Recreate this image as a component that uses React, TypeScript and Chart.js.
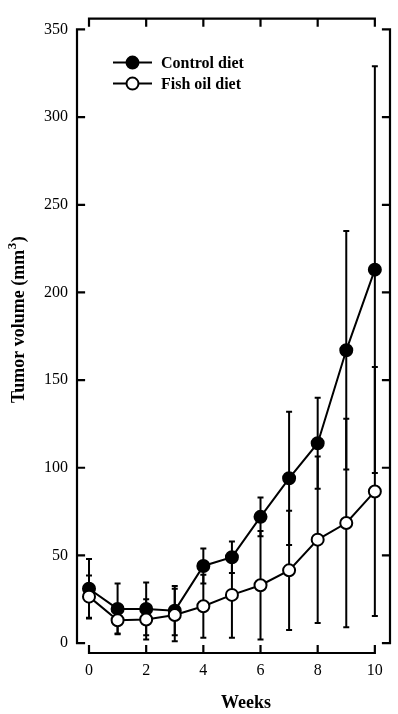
import React, { useEffect, useRef } from "react";
import { Chart, registerables } from "chart.js";
Chart.register(...registerables);

const weeks = [0, 1, 2, 3, 4, 5, 6, 7, 8, 9, 10];
const controlMean = [31, 19.5, 19.5, 18.5, 44, 49, 72, 94, 114, 167, 213];
const controlSD = [17, 14.5, 15, 14, 10, 9, 11, 38, 26, 68, 116];
const fishMean = [26.5, 13, 13.5, 16, 21, 27.5, 33, 41.5, 59, 68.5, 86.5];
const fishSD = [12, 7.5, 11.5, 15, 18, 24.5, 31, 34, 47.5, 59.5, 71];
const xTicks = [0, 2, 4, 6, 8, 10];
const yTicks = [0, 50, 100, 150, 200, 250, 300, 350];
const seriesLabels = ["Control diet", "Fish oil diet"];
const xTitle = "Weeks";
const yTitleMain = "Tumor volume (mm";
const yTitleSup = "3";
const yTitleEnd = ")";

const FONT = "'Liberation Serif', 'Times New Roman', serif";

const errorBarPlugin = {
  id: "errorBars",
  beforeDatasetsDraw(chart: any) {
    const { ctx, scales } = chart;
    const xs = scales.x, ys = scales.y;
    ctx.save();
    ctx.strokeStyle = "#000";
    ctx.lineWidth = 2;
    chart.data.datasets.forEach((ds: any) => {
      const errs: number[] = ds.errors || [];
      ds.data.forEach((p: any, i: number) => {
        const e = errs[i];
        if (e == null) return;
        const x = xs.getPixelForValue(p.x);
        const yt = ys.getPixelForValue(p.y + e);
        const yb = ys.getPixelForValue(p.y - e);
        ctx.beginPath();
        ctx.moveTo(x, yt);
        ctx.lineTo(x, yb);
        ctx.moveTo(x - 3, yt);
        ctx.lineTo(x + 3, yt);
        ctx.moveTo(x - 3, yb);
        ctx.lineTo(x + 3, yb);
        ctx.stroke();
      });
    });
    ctx.restore();
  },
};

const axesPlugin = {
  id: "offsetAxes",
  afterDraw(chart: any) {
    const { ctx, scales, chartArea } = chart;
    const xs = scales.x, ys = scales.y;
    const x0 = xs.getPixelForValue(xTicks[0]);
    const x1 = xs.getPixelForValue(xTicks[xTicks.length - 1]);
    const y0 = ys.getPixelForValue(yTicks[0]);
    const y1 = ys.getPixelForValue(yTicks[yTicks.length - 1]);
    const L = chartArea.left, R = chartArea.right, T = chartArea.top, B = chartArea.bottom;
    const tl = 7;
    ctx.save();
    ctx.strokeStyle = "#000";
    ctx.lineWidth = 2.2;
    ctx.lineCap = "square";
    ctx.beginPath();
    ctx.moveTo(L, y1); ctx.lineTo(L, y0);
    ctx.moveTo(R, y1); ctx.lineTo(R, y0);
    ctx.moveTo(x0, B); ctx.lineTo(x1, B);
    ctx.moveTo(x0, T); ctx.lineTo(x1, T);
    yTicks.forEach((v) => {
      const y = ys.getPixelForValue(v);
      ctx.moveTo(L, y); ctx.lineTo(L + tl, y);
      ctx.moveTo(R, y); ctx.lineTo(R - tl, y);
    });
    xTicks.forEach((v) => {
      const x = xs.getPixelForValue(v);
      ctx.moveTo(x, B); ctx.lineTo(x, B - tl);
      ctx.moveTo(x, T); ctx.lineTo(x, T + tl);
    });
    ctx.stroke();

    // axis titles
    ctx.fillStyle = "#000";
    ctx.textBaseline = "alphabetic";
    ctx.font = `bold 18px ${FONT}`;
    ctx.textAlign = "center";
    ctx.fillText(xTitle, (x0 + x1) / 2 + 14, 708);

    ctx.save();
    ctx.translate(24, 403);
    ctx.rotate(-Math.PI / 2);
    ctx.textAlign = "left";
    ctx.font = `bold 18px ${FONT}`;
    ctx.fillText(yTitleMain, 0, 0);
    let w = ctx.measureText(yTitleMain).width;
    ctx.font = `bold 13px ${FONT}`;
    ctx.fillText(yTitleSup, w + 0.5, -8);
    w += ctx.measureText(yTitleSup).width + 1;
    ctx.font = `bold 18px ${FONT}`;
    ctx.fillText(yTitleEnd, w, 0);
    ctx.restore();

    ctx.restore();
  },
};

const legendPlugin = {
  id: "insideLegend",
  afterDraw(chart: any) {
    const { ctx, chartArea } = chart;
    const order = [1, 0];
    ctx.save();
    order.forEach((dsIndex, row) => {
      const ds: any = chart.data.datasets[dsIndex];
      const y = chartArea.top + 44 + row * 21;
      const lx0 = chartArea.left + 36;
      const lx1 = chartArea.left + 75;
      const cx = (lx0 + lx1) / 2;
      ctx.strokeStyle = "#000";
      ctx.lineWidth = 2;
      ctx.beginPath();
      ctx.moveTo(lx0, y);
      ctx.lineTo(lx1, y);
      ctx.stroke();
      ctx.beginPath();
      ctx.arc(cx, y, 6, 0, Math.PI * 2);
      ctx.fillStyle = ds.pointBackgroundColor;
      ctx.fill();
      ctx.lineWidth = 2;
      ctx.stroke();
      ctx.fillStyle = "#000";
      ctx.font = `bold 16px ${FONT}`;
      ctx.textBaseline = "middle";
      ctx.textAlign = "left";
      ctx.fillText(ds.label, chartArea.left + 84, y + 1);
    });
    ctx.restore();
  },
};

export default function App() {
  const ref = useRef<HTMLCanvasElement | null>(null);
  useEffect(() => {
    if (!ref.current) return;
    const chart = new Chart(ref.current, {
      type: "line",
      data: {
        datasets: [
          {
            label: seriesLabels[1],
            data: weeks.map((w, i) => ({ x: w, y: fishMean[i] })),
            borderColor: "#000",
            borderWidth: 2,
            pointRadius: 6,
            pointBackgroundColor: "#fff",
            pointBorderColor: "#000",
            pointBorderWidth: 2,
            order: 0,
            errors: fishSD,
          } as any,
          {
            label: seriesLabels[0],
            data: weeks.map((w, i) => ({ x: w, y: controlMean[i] })),
            borderColor: "#000",
            borderWidth: 2,
            pointRadius: 6,
            pointBackgroundColor: "#000",
            pointBorderColor: "#000",
            pointBorderWidth: 2,
            order: 1,
            errors: controlSD,
          } as any,
        ],
      },
      options: {
        responsive: false,
        animation: false,
        devicePixelRatio: 1,
        layout: { padding: { top: 13, right: 8, left: 0, bottom: 0 } },
        plugins: { legend: { display: false }, tooltip: { enabled: false } },
        scales: {
          x: {
            type: "linear",
            min: -0.42,
            max: 10.53,
            afterBuildTicks: (s: any) => {
              s.ticks = xTicks.map((v) => ({ value: v }));
            },
            afterFit: (s: any) => {
              s.height = 61;
            },
            grid: { display: false, drawTicks: false },
            border: { display: false },
            ticks: {
              color: "#000",
              font: { family: FONT, size: 16 },
              padding: 8,
              maxRotation: 0,
              autoSkip: false,
            },
            title: { display: false },
          },
          y: {
            type: "linear",
            min: -5.65,
            max: 356.2,
            afterBuildTicks: (s: any) => {
              s.ticks = yTicks.map((v) => ({ value: v }));
            },
            afterFit: (s: any) => {
              s.width = 77;
            },
            grid: { display: false, drawTicks: false },
            border: { display: false },
            ticks: {
              color: "#000",
              font: { family: FONT, size: 16 },
              padding: 9,
              autoSkip: false,
            },
            title: { display: false },
          },
        },
      } as any,
      plugins: [errorBarPlugin, axesPlugin, legendPlugin],
    });
    return () => chart.destroy();
  }, []);
  return (
    <div style={{ position: "fixed", left: 0, top: 0, width: 398, height: 714, background: "#fff" }}>
      <canvas ref={ref} width={398} height={714} style={{ display: "block" }} />
    </div>
  );
}
